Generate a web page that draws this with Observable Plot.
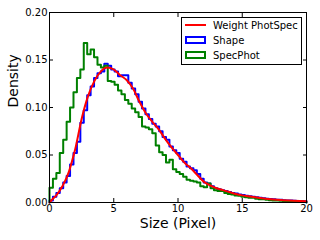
<!DOCTYPE html>
<html><head><meta charset="utf-8">
<script src="https://cdn.jsdelivr.net/npm/d3@7"></script>
<script src="https://cdn.jsdelivr.net/npm/@observablehq/plot@0.6"></script>
<style>
html,body{margin:0;padding:0;background:#fff;}
#wrap{position:relative;width:320px;height:240px;font-family:"DejaVu Sans",sans-serif;}
#legend{position:absolute;left:181px;top:17px;}
</style></head><body><div id="wrap"></div>
<script>
const xTicks = [0, 5, 10, 15, 20];
const yTicks = [0, 0.05, 0.10, 0.15, 0.20];
const binStart = 0, binEnd = 20;
const seriesNames = ["Weight PhotSpec", "Shape", "SpecPhot"];
const seriesColors = ["#ff0000", "#0000ff", "#008000"];

// Shape histogram (75 bins over 0-20)
const shapeDensity = [0.002,0.006,0.010,0.015,0.021,0.028,0.040,0.052,0.064,0.084,
  0.097,0.113,0.122,0.131,0.136,0.138,0.146,0.144,0.140,0.138,
  0.133,0.134,0.134,0.126,0.120,0.114,0.106,0.099,0.093,0.088,
  0.083,0.080,0.075,0.069,0.066,0.059,0.055,0.052,0.046,0.043,
  0.038,0.036,0.034,0.030,0.025,0.021,0.020,0.017,0.015,0.014,
  0.013,0.012,0.011,0.010,0.0095,0.0085,0.008,0.0072,0.0066,0.006,
  0.0055,0.005,0.0045,0.004,0.0037,0.0033,0.003,0.0028,0.0025,0.0022,
  0.002,0.0018,0.0016,0.0015,0.0013];

// SpecPhot histogram (75 bins over 0-20)
const specPhotDensity = [0.0155,0.025,0.031,0.052,0.066,0.085,0.100,0.116,0.131,0.140,
  0.168,0.156,0.161,0.153,0.145,0.142,0.144,0.128,0.127,0.124,
  0.118,0.114,0.108,0.104,0.099,0.095,0.090,0.080,0.079,0.077,
  0.073,0.060,0.053,0.050,0.042,0.045,0.035,0.032,0.030,0.027,
  0.024,0.023,0.022,0.021,0.017,0.016,0.020,0.015,0.013,0.012,
  0.012,0.010,0.009,0.0085,0.0075,0.007,0.006,0.0055,0.005,0.005,
  0.004,0.0035,0.0035,0.003,0.0025,0.0022,0.002,0.0018,0.0015,0.0013,
  0.0012,0.001,0.0009,0.0008,0.0006];

// Weight PhotSpec smooth curve
const weightX = [0,0.27,0.5,1.0,1.5,1.7,2.0,2.5,3.0,3.5,4.0,4.5,5.0,5.5,6.0,6.5,7.0,7.5,8.0,8.5,9.0,9.5,10.0,10.5,11.0,11.5,12.0,12.5,13.0,13.5,14.0,14.5,15.0,15.5,16.0,17.0,18.0,19.0,20.0];
const weightY = [0,0.004,0.007,0.017,0.032,0.041,0.056,0.088,0.112,0.128,0.138,0.142,0.140,0.134,0.129,0.120,0.106,0.094,0.085,0.077,0.067,0.058,0.050,0.042,0.036,0.029,0.022,0.018,0.015,0.013,0.011,0.009,0.0075,0.0065,0.0055,0.0038,0.0026,0.0018,0.0012];

function stepPoints(vals) {
  const w = (binEnd - binStart) / vals.length;
  const pts = [{x: binStart, y: 0}];
  vals.forEach((v, i) => pts.push({x: binStart + i * w, y: v}));
  pts.push({x: binEnd, y: vals[vals.length - 1]});
  pts.push({x: binEnd, y: 0});
  return pts;
}
const weightData = weightX.map((x, i) => ({x, y: weightY[i]}));

const chart = Plot.plot({
  width: 320, height: 240,
  marginLeft: 49, marginRight: 14, marginTop: 12, marginBottom: 38,
  style: {fontFamily: "DejaVu Sans, sans-serif", fontSize: "10px", color: "black", background: "white"},
  x: {domain: [0, 20]},
  y: {domain: [0, 0.2]},
  marks: [
    Plot.line(stepPoints(shapeDensity), {x: "x", y: "y", curve: "step-after", stroke: seriesColors[1], strokeWidth: 2}),
    Plot.line(stepPoints(specPhotDensity), {x: "x", y: "y", curve: "step-after", stroke: seriesColors[2], strokeWidth: 2}),
    Plot.line(weightData, {x: "x", y: "y", curve: "monotone-x", stroke: seriesColors[0], strokeWidth: 2}),
    Plot.frame({stroke: "black", strokeWidth: 1}),
    Plot.axisX({anchor: "bottom", ticks: xTicks, tickSize: -4, tickPadding: 6, label: null, tickFormat: d => String(d)}),
    Plot.axisX({anchor: "top", ticks: xTicks, tickSize: -4, label: null, tickFormat: () => ""}),
    Plot.axisY({anchor: "left", ticks: yTicks, tickSize: -4, tickPadding: 6, label: null, tickFormat: d => d.toFixed(2)}),
    Plot.axisY({anchor: "right", ticks: yTicks, tickSize: -4, label: null, tickFormat: () => ""}),
    Plot.text(["Size (Pixel)"], {frameAnchor: "bottom", lineAnchor: "middle", dy: 21, fontSize: 14, fill: "black"}),
    Plot.text(["Density"], {frameAnchor: "left", lineAnchor: "middle", dx: -36, rotate: -90, fontSize: 14, fill: "black"})
  ]
});
const wrap = document.getElementById("wrap");
wrap.appendChild(chart);

// Legend overlay
const leg = document.createElement("div");
leg.id = "legend";
const rows = seriesNames.map((name, i) => {
  const cy = 8 + i * 15;
  const sym = i === 0
    ? `<line x1="4" x2="25" y1="${cy}" y2="${cy}" stroke="${seriesColors[i]}" stroke-width="2"/>`
    : `<rect x="5" y="${cy - 3}" width="19" height="6" fill="none" stroke="${seriesColors[i]}" stroke-width="2"/>`;
  return sym + `<text x="32" y="${cy}" dy="0.35em" font-size="10" font-family="DejaVu Sans, sans-serif" fill="black">${name}</text>`;
}).join("");
leg.innerHTML = `<svg width="122" height="49"><rect x="0.5" y="0.5" width="120" height="47" fill="white" stroke="black" stroke-width="1"/>${rows}</svg>`;
wrap.appendChild(leg);
</script></body></html>
